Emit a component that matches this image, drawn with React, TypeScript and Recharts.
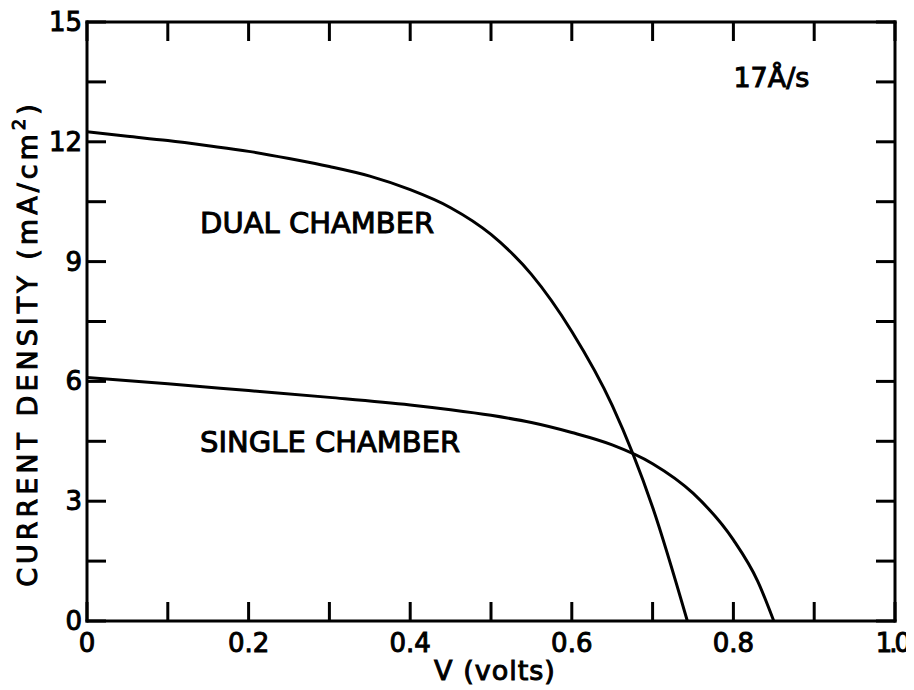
import React from 'react';
import { LineChart, Line, XAxis, YAxis, ReferenceDot } from 'recharts';

// Dual chamber J-V curve (V in volts, J in mA/cm^2)
const dualV = [0, 0.05, 0.1, 0.15, 0.2, 0.25, 0.3, 0.35, 0.4, 0.45, 0.5, 0.55, 0.6, 0.65, 0.7, 0.743];
const dualJ = [12.25, 12.14, 12.03, 11.9, 11.76, 11.58, 11.38, 11.14, 10.8, 10.35, 9.68, 8.68, 7.25, 5.4, 2.85, 0];

// Single chamber J-V curve
const singleV = [0, 0.1, 0.2, 0.3, 0.4, 0.45, 0.5, 0.55, 0.6, 0.65, 0.7, 0.75, 0.8, 0.83, 0.85];
const singleJ = [6.1, 5.94, 5.77, 5.6, 5.41, 5.29, 5.15, 4.97, 4.72, 4.41, 3.94, 3.2, 2.03, 1.0, 0];

const xTicks = [0, 0.1, 0.2, 0.3, 0.4, 0.5, 0.6, 0.7, 0.8, 0.9, 1.0];
const xTickLabels = ['0', '', '0.2', '', '0.4', '', '0.6', '', '0.8', '', '1.0'];
const yTicks = [0, 1.5, 3, 4.5, 6, 7.5, 9, 10.5, 12, 13.5, 15];
const yTickLabels = ['0', '', '3', '', '6', '', '9', '', '12', '', '15'];

const seriesNames = ['DUAL CHAMBER', 'SINGLE CHAMBER'];
const rateLabel = '17Å/s';
const xTitle = 'V (volts)';
const yTitle = 'CURRENT DENSITY (mA/cm';

const dualData = dualV.map((v, i) => ({ v, j: dualJ[i] }));
const singleData = singleV.map((v, i) => ({ v, j: singleJ[i] }));

const FONT = '"DejaVu Sans", sans-serif';
const TICK_LEN = 19;
const SW = 3;
const TXT_STROKE = 1;

const BottomTick = (props: any) => {
  const { x, y, payload } = props;
  const label = xTickLabels[xTicks.indexOf(payload.value)];
  const narrow = label && label.startsWith('1');
  return (
    <g>
      <line x1={x} y1={y} x2={x} y2={y - TICK_LEN} stroke="#000" strokeWidth={SW} />
      {label ? (
        <text
          x={narrow ? x - 3 : x}
          y={y + 31}
          textAnchor="middle"
          fontFamily={FONT}
          fontSize={26}
          letterSpacing={narrow ? -3 : 0}
          fill="#000"
          stroke="#000"
          strokeWidth={TXT_STROKE}
        >
          {label}
        </text>
      ) : null}
    </g>
  );
};

const TopTick = (props: any) => {
  const { x, y } = props;
  return <line x1={x} y1={y} x2={x} y2={y + TICK_LEN} stroke="#000" strokeWidth={SW} />;
};

const LeftTick = (props: any) => {
  const { x, y, payload } = props;
  const label = yTickLabels[yTicks.indexOf(payload.value)];
  return (
    <g>
      <line x1={x} y1={y} x2={x + TICK_LEN} y2={y} stroke="#000" strokeWidth={SW} />
      {label ? (
        <text x={x - 5} y={y + 9} textAnchor="end" fontFamily={FONT} fontSize={26} fill="#000" stroke="#000" strokeWidth={TXT_STROKE}>
          {label}
        </text>
      ) : null}
    </g>
  );
};

const RightTick = (props: any) => {
  const { x, y } = props;
  return <line x1={x} y1={y} x2={x - TICK_LEN} y2={y} stroke="#000" strokeWidth={SW} />;
};

const XTitle = (props: any) => {
  const vb = props.viewBox || {};
  return (
    <text x={vb.x + vb.width / 2 + 4} y={vb.y + 59} textAnchor="middle" fontFamily={FONT} fontSize={27} fill="#000" stroke="#000" strokeWidth={TXT_STROKE} letterSpacing={1}>
      {xTitle}
    </text>
  );
};

const YTitle = (props: any) => {
  const vb = props.viewBox || {};
  const cx = vb.x + vb.width - 60;
  const cy = vb.y + vb.height / 2 + 22;
  return (
    <text
      x={cx}
      y={cy}
      transform={`rotate(-90 ${cx} ${cy})`}
      textAnchor="middle"
      dominantBaseline="central"
      fontFamily={FONT}
      fontSize={27}
      letterSpacing={4}
      fill="#000"
      stroke="#000"
      strokeWidth={TXT_STROKE}
    >
      {yTitle}
      <tspan dy={-9} fontSize={18}>2</tspan>
      <tspan dy={9}>)</tspan>
    </text>
  );
};

const textStyle = { fontFamily: FONT, fill: '#000', stroke: '#000', strokeWidth: TXT_STROKE };
const axisLineStyle = { stroke: '#000', strokeWidth: SW, strokeLinecap: 'square' as const };

export default function App() {
  return (
    <LineChart width={900} height={682} margin={{ top: 13, right: 12, bottom: 68, left: 78 }}>
      <XAxis
        xAxisId={0}
        dataKey="v"
        type="number"
        domain={[0, 1]}
        ticks={xTicks}
        interval={0}
        height={1}
        tickSize={0}
        tickMargin={0}
        tickLine={false}
        axisLine={axisLineStyle}
        tick={<BottomTick />}
        label={<XTitle />}
        allowDataOverflow
      />
      <XAxis
        xAxisId="top"
        orientation="top"
        dataKey="v"
        type="number"
        domain={[0, 1]}
        ticks={xTicks}
        interval={0}
        height={1}
        tickSize={0}
        tickMargin={0}
        tickLine={false}
        axisLine={axisLineStyle}
        tick={<TopTick />}
        allowDataOverflow
      />
      <YAxis
        yAxisId={0}
        type="number"
        domain={[0, 15]}
        ticks={yTicks}
        interval={0}
        width={1}
        tickSize={0}
        tickMargin={0}
        tickLine={false}
        axisLine={axisLineStyle}
        tick={<LeftTick />}
        label={<YTitle />}
        allowDataOverflow
      />
      <YAxis
        yAxisId="right"
        orientation="right"
        type="number"
        domain={[0, 15]}
        ticks={yTicks}
        interval={0}
        width={1}
        tickSize={0}
        tickMargin={0}
        tickLine={false}
        axisLine={axisLineStyle}
        tick={<RightTick />}
        allowDataOverflow
      />
      <Line
        xAxisId={0}
        yAxisId={0}
        data={dualData}
        dataKey="j"
        type="monotone"
        stroke="#000"
        strokeWidth={SW}
        dot={false}
        isAnimationActive={false}
      />
      <Line
        xAxisId={0}
        yAxisId={0}
        data={singleData}
        dataKey="j"
        type="monotone"
        stroke="#000"
        strokeWidth={SW}
        dot={false}
        isAnimationActive={false}
      />
      <ReferenceDot
        xAxisId={0}
        yAxisId={0}
        x={0.14}
        y={9.98}
        r={0}
        stroke="none"
        fill="none"
        label={{ value: seriesNames[0], position: 'right', offset: 0, fontSize: 29, ...textStyle }}
      />
      <ReferenceDot
        xAxisId={0}
        yAxisId={0}
        x={0.14}
        y={4.48}
        r={0}
        stroke="none"
        fill="none"
        label={{ value: seriesNames[1], position: 'right', offset: 0, fontSize: 29, ...textStyle }}
      />
      <ReferenceDot
        xAxisId={0}
        yAxisId={0}
        x={0.8}
        y={13.6}
        r={0}
        stroke="none"
        fill="none"
        label={{ value: rateLabel, position: 'right', offset: 0, fontSize: 27, ...textStyle }}
      />
    </LineChart>
  );
}
